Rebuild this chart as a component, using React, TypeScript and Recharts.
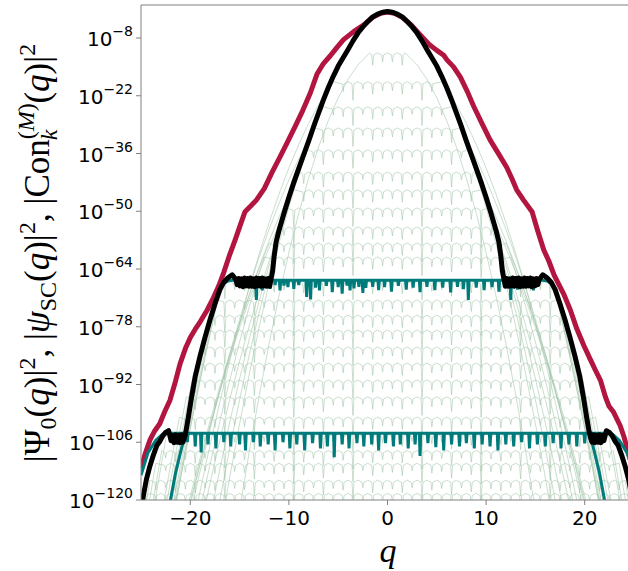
// Ground state vs. semiclassical and Con_k^(M) approximations, log scale

import React from "react";
import { LineChart, Line, XAxis, YAxis, ReferenceLine } from "recharts";

type Pt = [number, number];

// axis ticks (y values are log10 of the plotted quantity)
const qTicks = [-20, -10, 0, 10, 20];
const logTicks = [-120, -106, -92, -78, -64, -50, -36, -22, -8];

// |Psi_0(q)|^2, right half (symmetric)
const blackHalf: Pt[] = [
  [0, -1.6], [0.5, -1.75], [1, -2.2], [1.5, -2.9], [2, -4.0], [2.5, -5.3], [3, -6.8],
  [3.5, -8.7], [4, -10.8], [4.5, -12.8], [5, -14.8], [5.5, -17.3], [6, -20], [6.5, -23],
  [7, -26.2], [7.5, -29.5], [8, -33], [8.5, -36.3], [9, -39.6], [9.5, -43], [10, -46.6],
  [10.5, -50.5], [11, -54.6], [11.3, -57.5], [11.5, -61], [11.65, -64.5], [11.8, -66.3],
  [11.95, -68.2], [12.1, -66.3], [12.25, -68.2], [12.4, -66.4], [12.55, -68.1], [12.7, -66.2],
  [12.85, -68.2], [13.0, -66.3], [13.15, -68.1], [13.3, -66.2], [13.45, -68.3], [13.6, -66.4],
  [13.75, -68.2], [13.9, -66.2], [14.05, -68.2], [14.2, -66.3], [14.35, -68.1], [14.5, -66.2],
  [14.65, -68.3], [14.8, -66.4], [14.95, -68.1], [15.1, -66.3], [15.25, -67.8], [15.4, -66.5],
  [15.75, -65.4], [16.2, -66.2], [16.6, -67.2], [17.0, -69.0], [17.5, -72.5], [18.0, -76.3],
  [18.5, -80.5], [19.0, -85.0], [19.5, -90.0], [19.9, -95.5], [20.2, -100], [20.45, -103.5],
  [20.6, -105], [20.75, -106], [20.9, -104.2], [21.05, -106.1], [21.2, -104.3], [21.35, -106],
  [21.5, -104.2], [21.65, -106.1], [21.8, -104.4], [21.95, -105.6], [22.2, -103.2],
  [22.5, -103.6], [22.8, -104.5], [23.1, -105.8], [23.4, -106.8], [23.8, -109.5],
  [24.1, -111.8], [24.45, -115], [24.76, -119], [25, -122],
];

// |psi_SC(q)|^2 of the wide semiclassical state
const redPoints: Pt[] = [
  [-25, -112.4], [-24.6, -109], [-24.1, -105.5], [-23.6, -103.2], [-23.1, -101.5],
  [-22.6, -98.6], [-22.06, -95.8], [-21.5, -91.2], [-21.04, -87], [-20.5, -83.3], [-20, -80.6],
  [-19.5, -78.6], [-19, -76.8], [-18.3, -74], [-17.66, -71], [-17.1, -68], [-16.6, -64.8],
  [-16.0, -60.5], [-15.46, -57], [-14.95, -53.5], [-14.45, -50.1], [-13.9, -48.8],
  [-13.3, -47.3], [-12.5, -44.5], [-11.7, -40.5], [-10.9, -36.8], [-10.2, -33.5], [-9.4, -29.6],
  [-8.6, -25.6], [-7.84, -21.4], [-7.16, -16.8], [-6.5, -14.2], [-5.8, -12.3], [-5.1, -10.2],
  [-4.46, -8.4], [-3.4, -6.4], [-2.4, -4.8], [-1.5, -3.0], [-0.7, -2.0], [0, -1.7], [0.7, -2.0],
  [1.5, -3.0], [2.4, -4.8], [3.3, -7.2], [4.2, -9.5], [5.0, -11.0], [5.7, -12.2], [6.03, -13.3],
  [6.7, -15.0], [7.39, -17.5], [8.1, -21], [8.75, -24.6], [9.6, -28.8], [10.4, -32.7],
  [11.3, -36.2], [12.1, -39.4], [12.6, -42], [13.1, -44.8], [13.8, -47.3], [14.66, -50.1],
  [15.2, -54.5], [15.85, -59.4], [16.35, -62], [16.9, -65.5], [17.9, -70.2], [18.55, -74],
  [19.2, -78.5], [19.9, -82.5], [20.6, -86.1], [21.1, -88.6], [21.6, -91], [22.1, -95],
  [22.45, -97.2], [22.9, -98.6], [23.6, -102], [24.0, -104.8], [24.4, -108.3], [25, -112.6],
];

// teal curve A: plateau near 1e-66.7
const tealALevel = -66.7;
const tealAFlankLeft: Pt[] = [
  [-22.05, -120.5], [-21.5, -113.5], [-21.0, -108.5], [-20.45, -103.5], [-20.2, -100],
  [-19.9, -95.5], [-19.5, -90], [-19, -85], [-18.5, -80.5], [-18, -76.3], [-17.5, -72.5],
  [-17, -69], [-16.6, -67.5], [-16.2, -66.9], [-15.6, -66.7],
];
const tealAFlankRight: Pt[] = [
  [15.6, -66.7], [16.2, -66.9], [16.6, -67.5], [17, -69], [17.5, -72.5], [18, -76.3],
  [18.5, -80.5], [19, -85], [19.5, -90], [19.9, -95.5], [20.2, -100], [20.5, -103.8],
  [21.0, -108.5], [21.5, -113.5], [22.05, -120.5],
];
const tealASpikes: Pt[] = [
  [-15.2, -68.2], [-14.7, -67.8], [-14.1, -68.6], [-13.3, -71.5], [-12.7, -69.2], [-12.2, -68.0],
  [-11.9, -68.8], [-11.4, -67.9], [-10.9, -69.2], [-10.5, -68.0], [-10.1, -68.4], [-9.5, -68.8],
  [-9.0, -67.9], [-8.2, -70.8], [-7.8, -71.4], [-7.3, -68.5], [-6.9, -69.2], [-6.2, -68.1],
  [-5.6, -69.6], [-5.0, -68.4], [-4.6, -70.0], [-4.1, -68.0], [-3.8, -69.2], [-3.4, -68.7],
  [-2.9, -68.3], [-2.5, -69.8], [-2.2, -68.6], [-1.5, -68.3], [-0.9, -69.1], [-0.3, -68.4],
  [0.4, -69.5], [1.1, -68.1], [1.9, -69.0], [2.6, -68.5], [3.3, -69.6], [4.0, -68.3],
  [4.8, -69.1], [5.6, -68.5], [6.4, -69.7], [7.1, -68.3], [7.7, -68.9], [8.2, -71.5],
  [9.0, -68.5], [9.8, -69.1], [10.6, -68.4], [11.3, -69.5], [12.0, -68.2], [12.5, -71.5],
  [13.2, -69.0], [14.0, -68.6], [14.8, -69.2], [15.3, -68.0],
];

// teal curve B: plateau near 1e-103.8
const tealBLevel = -103.8;
const tealBFlankLeft: Pt[] = [
  [-25, -114], [-24.3, -108.6], [-23.5, -105.5], [-22.8, -104], [-22.5, -103.8],
];
const tealBFlankRight: Pt[] = [
  [22.5, -103.8], [22.8, -104], [23.5, -105.5], [24.3, -108.6], [25, -114],
];
const tealBSpikes: Pt[] = [
  [-20.3, -106], [-19.5, -107], [-18.9, -108.5], [-18.2, -106.5], [-17.4, -107.5], [-16.6, -106],
  [-15.9, -107], [-15.0, -106.5], [-14.4, -108], [-13.6, -106], [-12.9, -107], [-12.1, -106.5],
  [-11.4, -108], [-10.6, -106], [-9.9, -107.5], [-9.2, -106.5], [-8.4, -108], [-7.6, -106.2],
  [-6.8, -107.5], [-6.1, -107], [-5.4, -109.6], [-4.6, -106.5], [-3.9, -107.5], [-3.1, -106.2],
  [-2.4, -107], [-1.6, -106.5], [-0.9, -108], [-0.2, -106.2], [0.6, -107], [1.3, -106.5],
  [2.1, -107.5], [2.8, -106.5], [3.3, -109.3], [4.1, -106.2], [4.9, -107.2], [5.7, -108],
  [6.5, -106.5], [7.3, -107], [8.0, -106.2], [8.8, -107.5], [9.6, -106.5], [10.4, -107],
  [11.2, -108], [12.0, -106.5], [12.8, -107], [13.6, -106], [14.4, -107.5], [15.2, -106.5],
  [16.0, -107], [16.8, -106.2], [17.6, -107.5], [18.4, -106.5], [19.2, -107], [20.0, -106.3],
];

// |Con_k^(M)(q)|^2 family: plateau level, plateau half width, right flank
const conLevels = [
  -11.6, -18.6, -24.7, -29.8, -35.1, -40.5, -44.8, -49.2, -53.8, -57.7, -61.1, -67, -71.5,
  -75.2, -78.8, -82.9, -86.8, -90.9, -95, -99.9, -104, -108, -111.1, -115.2, -118.4,
];
const conHalfWidths = [
  1.8, 5.5, 6.5, 7.3, 8.1, 8.8, 9.5, 10.2, 10.8, 12.0, 12.5, 16.8, 17.2, 17.7, 18.2, 18.8,
  19.3, 19.8, 20.4, 21.1, 22.4, 22.9, 23.5, 24.1, 24.7,
];
const conFlanks: Pt[][] = [
  [[3, -14.5], [4, -18], [5, -22.5], [6, -28], [7, -34.5], [8, -42], [9, -50.5], [10, -60], [11, -70.5], [12, -82], [13, -94.5], [14, -108], [15, -122.5]],
  [[6, -20.3], [7, -24.2], [8, -28.7], [9, -33.8], [10, -39.5], [11, -45.8], [12, -52.7], [13, -60.2], [14, -68.3], [15, -77], [16, -86.3], [17, -96.2], [18, -106.7], [19, -117.8], [20, -129.5]],
  [[7, -27.5], [8, -33.8], [9, -41], [10, -49], [11, -57.8], [12, -67.4], [13, -77.9], [14, -89.3], [15, -101.5], [16, -114.5], [17, -128.3]],
  [[8, -32.7], [9, -37.3], [10, -42.4], [11, -48.1], [12, -54.3], [13, -61], [14, -68.3], [15, -76.2], [16, -84.5], [17, -93.4], [18, -102.9], [19, -112.9], [20, -123.4]],
  [[9, -40.9], [10, -48.2], [11, -56.1], [12, -64.9], [13, -74.4], [14, -84.6], [15, -95.7], [16, -107.4], [17, -120], [17.5, -126.5]],
  [[10, -46.1], [11, -51.4], [12, -57.1], [13, -63.4], [14, -70.1], [15, -77.4], [16, -85.1], [17, -93.4], [18, -102.1], [19, -111.4], [20, -121.1], [21, -131.4]],
  [[10, -48.1], [11, -55.3], [12, -63.1], [13, -71.6], [14, -80.8], [15, -90.6], [16, -101.2], [17, -112.4], [18, -124.3]],
  [[11, -53.3], [12, -58.8], [13, -64.8], [14, -71.3], [15, -78.2], [16, -85.7], [17, -93.6], [18, -102], [19, -110.9], [20, -120.2], [21, -130.1]],
  [[11, -55.1], [12, -62], [13, -69.5], [14, -77.6], [15, -86.3], [16, -95.6], [17, -105.5], [18, -116], [19, -127.1]],
  [[13, -63.7], [14, -70.2], [15, -77.1], [16, -84.6], [17, -92.5], [18, -100.9], [19, -109.8], [20, -119.1], [21, -129]],
  [[13, -64.9], [14, -73], [15, -81.7], [16, -91], [17, -100.9], [18, -111.4], [19, -122.5]],
  [[17.5, -74.2], [18.5, -85], [19.5, -96.4], [20.5, -108.4], [21.5, -121]],
  [[18, -79.9], [19, -91], [20, -102.7], [21, -115], [22, -127.9]],
  [[18, -78.4], [19, -89.5], [20, -101.2], [21, -113.5], [22, -126.4]],
  [[19, -87.7], [20, -99.4], [21, -111.7], [22, -124.6]],
  [[19, -85.2], [20, -96.9], [21, -109.2], [22, -122.1]],
  [[20, -95.1], [21, -107.4], [22, -120.3], [22.5, -126.9]],
  [[20.5, -99.4], [21.5, -112], [22.5, -125.2]],
  [[21, -102.5], [22, -115.4], [22.5, -122]],
  [[22, -111.5], [23, -125]],
  [[23, -112.2], [24, -126.3]],
  [[23.5, -116.4], [24.5, -130.8]],
  [[24, -118.2], [25, -132.9]],
  [[25, -128.5]],
  [[25, -121]],
];
// cusp depths (decades) of the scalloped plateaus at q = 0.5, 1.5, 2.5, ...
const scallopDepth = [
  2.2, 3.0, 1.8, 4.5, 2.4, 2.0, 3.6, 1.9, 2.8, 5.0, 2.1, 2.6, 1.8, 3.8, 2.3, 2.0, 4.2, 2.5,
  1.9, 3.1, 2.2, 2.7, 1.8, 2.4, 2.0,
];

const mirror = (half: Pt[]): Pt[] => [
  ...half.filter((p) => p[0] > 0).map(([q, v]) => [-q, v] as Pt).reverse(),
  ...half,
];

const withSpikes = (from: number, to: number, level: number, spikes: Pt[]): Pt[] => {
  const pts: Pt[] = [];
  spikes
    .filter(([q]) => q > from && q < to)
    .forEach(([q, v]) => pts.push([q - 0.07, level], [q, v], [q + 0.07, level]));
  return pts;
};

const conHalf = (i: number): Pt[] => {
  const P = conLevels[i];
  const W = conHalfWidths[i];
  const pts: Pt[] = [];
  for (let n = 0; n + 0.5 < W - 0.15; n++) {
    const d = scallopDepth[n];
    pts.push([n, P], [n + 0.4, P - 0.5], [n + 0.5, P - d], [n + 0.6, P - 0.5]);
  }
  pts.push([W, P], ...conFlanks[i]);
  return pts;
};

const toRows = (pts: Pt[]) => pts.map(([q, v]) => ({ q, v }));

const blackData = toRows(mirror(blackHalf));
const redData = toRows(redPoints);
const tealAData = toRows([
  ...tealAFlankLeft,
  ...withSpikes(-15.6, 15.6, tealALevel, tealASpikes),
  ...tealAFlankRight,
]);
const tealBData = toRows([
  ...tealBFlankLeft,
  ...withSpikes(-22.5, 22.5, tealBLevel, tealBSpikes),
  ...tealBFlankRight,
]);
const conData = conLevels.map((_, i) => toRows(mirror(conHalf(i))));

const minus = (n: number) => (n < 0 ? "\u2212" + Math.abs(n) : String(n));

const YTick = (props: any) => {
  const { x, y, payload } = props;
  return (
    <text x={x} y={y} textAnchor="end" fill="#000" fontFamily="'DejaVu Sans', sans-serif">
      <tspan fontSize={20} dy={8}>10</tspan>
      <tspan fontSize={14} dy={-10}>{minus(payload.value)}</tspan>
    </text>
  );
};

const XTick = (props: any) => {
  const { x, y, payload } = props;
  return (
    <text x={x} y={y} dy={17} textAnchor="middle" fontSize={20} fill="#000" fontFamily="'DejaVu Sans', sans-serif">
      {minus(payload.value)}
    </text>
  );
};

export default function App() {
  const spine = "#808080";
  const serif = "'Liberation Serif', 'Times New Roman', serif";
  return (
    <div style={{ position: "fixed", left: 0, top: 0, width: 628, height: 571, overflow: "hidden", background: "#fff" }}>
      <LineChart width={660} height={571} margin={{ top: 5, right: 26, bottom: 0, left: 0 }}>
        <XAxis
          dataKey="q"
          type="number"
          domain={[-25, 25]}
          allowDataOverflow
          ticks={qTicks}
          height={71}
          tick={<XTick />}
          tickSize={5}
          tickMargin={3}
          axisLine={{ stroke: spine }}
          tickLine={{ stroke: spine }}
        />
        <YAxis
          type="number"
          domain={[-120, 0]}
          allowDataOverflow
          ticks={logTicks}
          width={141}
          tick={<YTick />}
          tickSize={5}
          tickMargin={3}
          axisLine={{ stroke: spine }}
          tickLine={{ stroke: spine }}
        />
        <ReferenceLine y={0} stroke={spine} strokeWidth={1} />
        <ReferenceLine x={25} stroke={spine} strokeWidth={1} />
        {conData.map((d, i) => (
          <Line
            key={"con" + i}
            data={d}
            dataKey="v"
            type="linear"
            stroke="#9ec3a6"
            strokeOpacity={0.55}
            strokeWidth={1}
            dot={false}
            isAnimationActive={false}
          />
        ))}
        <Line data={redData} dataKey="v" type="linear" stroke="#b2153f" strokeWidth={5} strokeLinejoin="round" dot={false} isAnimationActive={false} />
        <Line data={tealBData} dataKey="v" type="linear" stroke="#007b7b" strokeWidth={3} dot={false} isAnimationActive={false} />
        <Line data={tealAData} dataKey="v" type="linear" stroke="#007b7b" strokeWidth={3} dot={false} isAnimationActive={false} />
        <Line data={blackData} dataKey="v" type="linear" stroke="#000" strokeWidth={5} strokeLinejoin="round" dot={false} isAnimationActive={false} />
      </LineChart>
      <svg width={628} height={571} style={{ position: "absolute", left: 0, top: 0, pointerEvents: "none" }}>
        <text transform="translate(49,253) rotate(-90)" textAnchor="middle" fontFamily={serif} fontSize={35} fill="#000">
          <tspan>|Ψ</tspan>
          <tspan fontSize={24} dy={7}>0</tspan>
          <tspan dy={-7}>(</tspan>
          <tspan fontStyle="italic">q</tspan>
          <tspan>)|</tspan>
          <tspan fontSize={24} dy={-14}>2</tspan>
          <tspan dy={14}>, |</tspan>
          <tspan fontStyle="italic">ψ</tspan>
          <tspan fontSize={24} dy={7}>SC</tspan>
          <tspan dy={-7}>(</tspan>
          <tspan fontStyle="italic">q</tspan>
          <tspan>)|</tspan>
          <tspan fontSize={24} dy={-14}>2</tspan>
          <tspan dy={14}>, |Con</tspan>
          <tspan fontSize={24} dy={-15}>(</tspan>
          <tspan fontSize={24} fontStyle="italic">M</tspan>
          <tspan fontSize={24}>)</tspan>
          <tspan fontSize={24} fontStyle="italic" dx={-37} dy={23}>k</tspan>
          <tspan dx={26} dy={-8}>(</tspan>
          <tspan fontStyle="italic">q</tspan>
          <tspan>)|</tspan>
          <tspan fontSize={24} dy={-14}>2</tspan>
        </text>
        <text x={388} y={562} textAnchor="middle" fontFamily={serif} fontStyle="italic" fontSize={34} fill="#000">
          q
        </text>
      </svg>
    </div>
  );
}
